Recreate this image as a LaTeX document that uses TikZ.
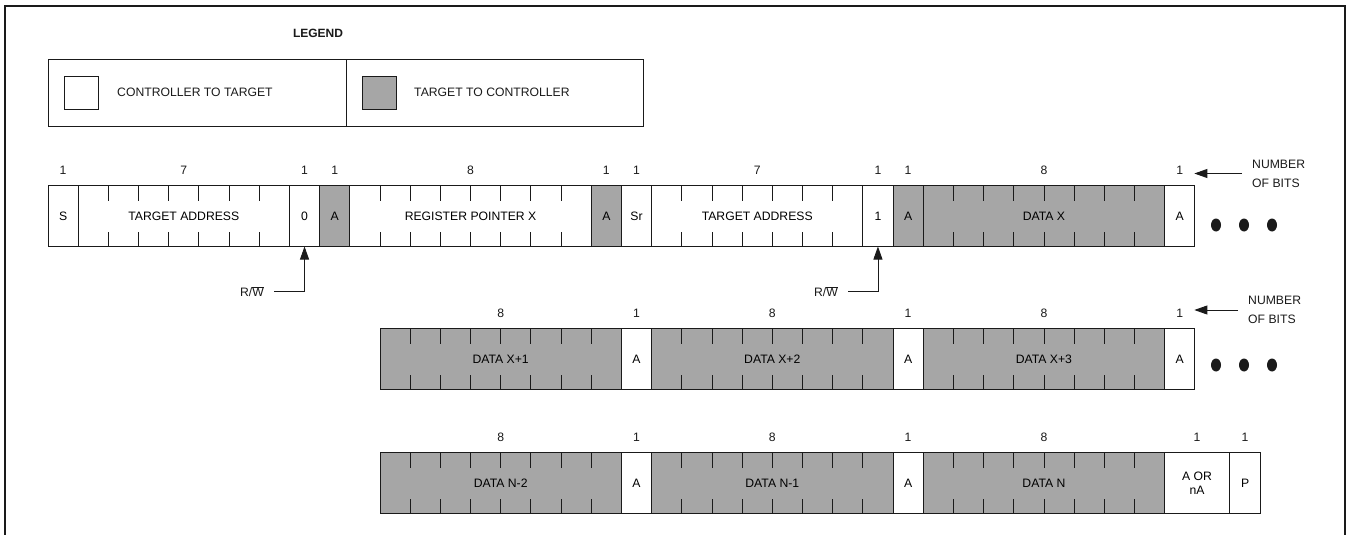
\documentclass[tikz,border=0pt]{standalone}
\usepackage{fontspec}
\setmainfont{Liberation Sans}
\usetikzlibrary{arrows.meta,calc}
\definecolor{ink}{HTML}{1A1A1A}
\definecolor{tgtgray}{HTML}{A6A6A6}
\newcommand\bitw{30.18}
\tikzset{field/.style={draw=ink,line width=.9pt,inner sep=0pt,outer sep=0pt,
  minimum height=61pt,anchor=west,align=center,font=\fontsize{12.2}{14}\selectfont},
ctl/.style={field,fill=white},
tgt/.style={field,fill=tgtgray},
swatch/.style={draw=ink,line width=.9pt,inner sep=0pt,minimum width=34pt,minimum height=33pt},
bits/.style={font=\fontsize{12.2}{14}\selectfont,text=ink,inner sep=2pt},
lab/.style={font=\fontsize{12.2}{19}\selectfont,text=ink,inner sep=2pt},
tick/.style={draw=ink,line width=.9pt},
pointer/.style={-{Triangle[length=13pt,width=9pt]},line width=.9pt,draw=ink}}
\begin{document}
\begin{tikzpicture}[x=1pt,y=-1pt]
\useasboundingbox (0,0) rectangle (1350,535);
\draw[line width=2.6pt,ink] (5,535) -- (5,6) -- (1345,6) -- (1345,535);
% legend
\node[lab,font=\bfseries\fontsize{12}{14}\selectfont] (legend) at (318,33) {LEGEND};
\node[draw=ink,line width=.9pt,inner sep=0pt,minimum width=298pt,minimum height=67pt] (legc) at (197,92.5) {};
\node[draw=ink,line width=.9pt,inner sep=0pt,minimum width=297pt,minimum height=67pt] (legt) at (494.5,92.5) {};
\node[swatch,fill=white] (swc) at (81,92.5) {};
\node[swatch,fill=tgtgray] (swt) at (379,92.5) {};
\node[lab,anchor=west] (ctltxt) at (115,92) {CONTROLLER TO TARGET};
\node[lab,anchor=west] (tgttxt) at (412,92) {TARGET TO CONTROLLER};
% bit fields: name/centre y/first bit/width/bits/style/text
\foreach \nm/\yc/\s/\w/\n/\st/\txt in {
 s/216/0/1/1/ctl/S, ta1/216/1/7/7/ctl/TARGET ADDRESS, zero/216/8/1/1/ctl/0,
 a1/216/9/1/1/tgt/A, rpx/216/10/8/8/ctl/REGISTER POINTER X, a2/216/18/1/1/tgt/A,
 sr/216/19/1/1/ctl/Sr, ta2/216/20/7/7/ctl/TARGET ADDRESS, one/216/27/1/1/ctl/1,
 a3/216/28/1/1/tgt/A, dx/216/29/8/8/tgt/DATA X, a4/216/37/1/1/ctl/A,
 d1/359/11/8/8/tgt/DATA X+1, b1/359/19/1/1/ctl/A, d2/359/20/8/8/tgt/DATA X+2,
 b2/359/28/1/1/ctl/A, d3/359/29/8/8/tgt/DATA X+3, b3/359/37/1/1/ctl/A,
 dn2/483/11/8/8/tgt/DATA N-2, c1/483/19/1/1/ctl/A, dn1/483/20/8/8/tgt/DATA N-1,
 c2/483/28/1/1/ctl/A, dn/483/29/8/8/tgt/DATA N, aor/483/37/2.15/1/ctl/{A OR\\nA},
 p/483/39.15/1.03/1/ctl/P}
 {\node[\st,minimum width={\w*\bitw pt}] (\nm) at ({48+\s*\bitw},\yc) {\txt};
  \node[bits] (n-\nm) at ($(\nm.north)+(0,-15)$) {\n};
  \ifnum\n>1
   \pgfmathtruncatemacro\m{\n-1}
   \foreach \k in {1,...,\m}
    {\draw[tick] ($(\nm.north west)+(\k*\bitw,0)$) -- ++(0,15);
     \draw[tick] ($(\nm.south west)+(\k*\bitw,0)$) -- ++(0,-15);}
  \fi}
% read/write pointers
\node[lab] (rwa) at (252,291.7) {R/$\overline{\hbox{W}}$};
\draw[pointer,shorten <=8pt] (rwa.east) -| (zero.south);
\node[lab] (rwb) at (826,291.7) {R/$\overline{\hbox{W}}$};
\draw[pointer,shorten <=8pt] (rwb.east) -| (one.south);
% number of bits
\node[lab,align=left,anchor=west] (nb1) at (1250,173.5) {NUMBER\\OF BITS};
\draw[pointer,shorten <=8pt,shorten >=9pt] (nb1.west) -- (nb1.west -| n-a4.east);
\node[lab,align=left,anchor=west] (nb2) at (1246,310) {NUMBER\\OF BITS};
\draw[pointer,shorten <=8pt,shorten >=9pt] (nb2.west) -- (nb2.west -| n-b3.east);
\foreach \x in {1216,1244,1272}
 {\fill[ink] (\x,225) ellipse [x radius=5,y radius=6.5];
  \fill[ink] (\x,365) ellipse [x radius=5,y radius=6.5];}
\end{tikzpicture}
\end{document}
